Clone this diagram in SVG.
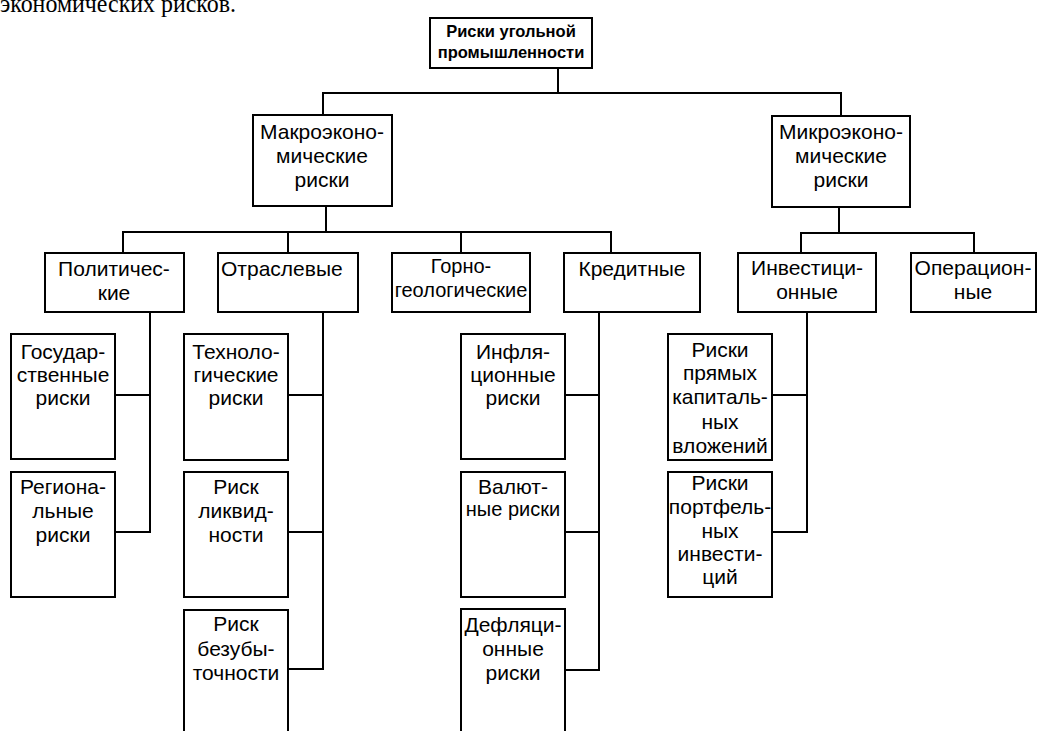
<svg xmlns="http://www.w3.org/2000/svg" width="1039" height="731" viewBox="0 0 1039 731">
<style>
rect{fill:#fff;stroke:#000;stroke-width:2}
text{font-family:"Liberation Sans",Arial,sans-serif;font-size:21px;fill:#000;text-anchor:middle}
.b{font-weight:bold;font-size:16.5px}
.s{font-size:20px}
#connectors line{stroke:#000;stroke-width:2}
.head{font-family:"Liberation Serif","Times New Roman",serif;font-size:26px;text-anchor:start}
</style>
<rect x="0" y="0" width="1039" height="731" style="stroke:none"/>
<text class="head" x="0" y="12" textLength="236" lengthAdjust="spacingAndGlyphs">экономических рисков.</text>
<g id="connectors">
<line x1="558" y1="68" x2="558" y2="93"/>
<line x1="322" y1="93" x2="842" y2="93"/>
<line x1="323" y1="93" x2="323" y2="115"/>
<line x1="841" y1="93" x2="841" y2="116"/>
<line x1="326" y1="206" x2="326" y2="232"/>
<line x1="122" y1="232" x2="612" y2="232"/>
<line x1="123" y1="232" x2="123" y2="253"/>
<line x1="288" y1="232" x2="288" y2="253"/>
<line x1="461" y1="232" x2="461" y2="253"/>
<line x1="611" y1="232" x2="611" y2="253"/>
<line x1="839" y1="207" x2="839" y2="233"/>
<line x1="800" y1="233" x2="975" y2="233"/>
<line x1="801" y1="233" x2="801" y2="253"/>
<line x1="974" y1="233" x2="974" y2="253"/>
<line x1="150" y1="312" x2="150" y2="533"/>
<line x1="115" y1="395" x2="151" y2="395"/>
<line x1="115" y1="532" x2="151" y2="532"/>
<line x1="323" y1="312" x2="323" y2="670"/>
<line x1="288" y1="395" x2="324" y2="395"/>
<line x1="288" y1="532" x2="324" y2="532"/>
<line x1="288" y1="669" x2="324" y2="669"/>
<line x1="599" y1="312" x2="599" y2="671"/>
<line x1="565" y1="395" x2="600" y2="395"/>
<line x1="565" y1="532" x2="600" y2="532"/>
<line x1="565" y1="670" x2="600" y2="670"/>
<line x1="807" y1="312" x2="807" y2="533"/>
<line x1="772" y1="395" x2="808" y2="395"/>
<line x1="772" y1="532" x2="808" y2="532"/>
</g>
<g id="root"><rect x="430" y="18" width="162" height="50"/><text class="b" x="511" y="37">Риски угольной</text><text class="b" x="511" y="58">промышленности</text></g>
<g id="macro"><rect x="253" y="115" width="139" height="91"/><text x="322" y="139">Макроэконо-</text><text x="322" y="163">мические</text><text x="322" y="187">риски</text></g>
<g id="micro"><rect x="772" y="116" width="138" height="91"/><text x="841" y="139">Микроэконо-</text><text x="841" y="163">мические</text><text x="841" y="187">риски</text></g>
<g id="polit"><rect x="45" y="253" width="139" height="59"/><text x="114" y="276">Политичес-</text><text x="114" y="300">кие</text></g>
<g id="otrasl"><rect x="218" y="253" width="140" height="59"/><text x="221" y="276" style="text-anchor:start">Отраслевые</text></g>
<g id="gorno"><rect x="392" y="253" width="138" height="59"/><text class="s" x="461" y="273">Горно-</text><text class="s" x="461" y="297">геологические</text></g>
<g id="kredit"><rect x="564" y="253" width="136" height="59"/><text x="632" y="276">Кредитные</text></g>
<g id="invest"><rect x="738" y="253" width="138" height="59"/><text x="807" y="275">Инвестици-</text><text x="807" y="299">онные</text></g>
<g id="oper"><rect x="911" y="253" width="125" height="59"/><text x="973" y="275">Операцион-</text><text x="973" y="299">ные</text></g>
<g id="gos"><rect x="11" y="334" width="104" height="125"/><text x="63" y="359">Государ-</text><text x="63" y="382">ственные</text><text x="63" y="405">риски</text></g>
<g id="region"><rect x="11" y="472" width="104" height="125"/><text x="63" y="494">Региона-</text><text x="63" y="518">льные</text><text x="63" y="542">риски</text></g>
<g id="tech"><rect x="184" y="334" width="104" height="126"/><text x="236" y="359">Техноло-</text><text x="236" y="382">гические</text><text x="236" y="405">риски</text></g>
<g id="liquid"><rect x="184" y="472" width="104" height="125"/><text x="236" y="494">Риск</text><text x="236" y="518">ликвид-</text><text x="236" y="542">ности</text></g>
<g id="bezub"><rect x="184" y="610" width="104" height="135"/><text x="236" y="631">Риск</text><text x="236" y="656">безубы-</text><text x="236" y="680">точности</text></g>
<g id="infl"><rect x="461" y="334" width="104" height="125"/><text x="513" y="359">Инфля-</text><text x="513" y="382">ционные</text><text x="513" y="405">риски</text></g>
<g id="valut"><rect x="461" y="472" width="104" height="125"/><text x="513" y="494">Валют-</text><text class="s" x="513" y="516">ные риски</text></g>
<g id="defl"><rect x="461" y="609" width="104" height="136"/><text x="513" y="632">Дефляци-</text><text x="513" y="656">онные</text><text x="513" y="680">риски</text></g>
<g id="capital"><rect x="668" y="334" width="104" height="126"/><text x="720" y="357">Риски</text><text x="720" y="380">прямых</text><text x="720" y="404">капиталь-</text><text x="720" y="429">ных</text><text x="720" y="453">вложений</text></g>
<g id="portfolio"><rect x="668" y="472" width="104" height="125"/><text x="720" y="490">Риски</text><text x="720" y="514">портфель-</text><text x="720" y="538">ных</text><text x="720" y="561">инвести-</text><text x="720" y="584">ций</text></g>
</svg>
